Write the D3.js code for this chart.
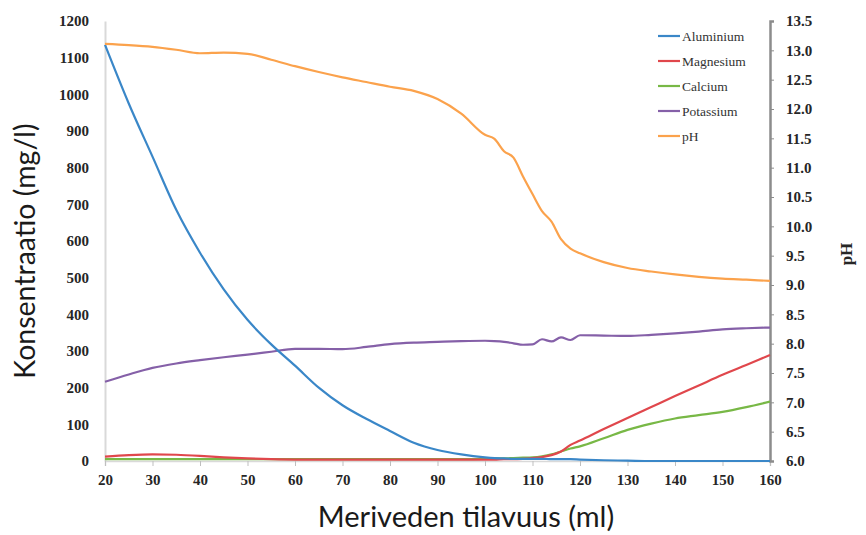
<!DOCTYPE html>
<html>
<head>
<meta charset="utf-8">
<script src="https://cdn.jsdelivr.net/npm/d3@7"></script>
<style>
  html, body { margin: 0; padding: 0; background: #fff; }
  svg { display: block; }
</style>
</head>
<body>
<svg id="chart" width="866" height="535"></svg>
<script>
// Seawater volume added (ml)
const volume = [20, 25, 30, 35, 40, 45, 50, 55, 60, 65, 70, 75, 80, 85, 90, 95, 100,
  102, 104, 106, 108, 110, 112, 114, 116, 118, 120, 125, 130, 135, 140, 145, 150, 155, 160];

// Concentrations (mg/l)
const aluminium = [1135, 975, 830, 685, 568, 468, 385, 318, 260, 200, 152, 115, 82, 50, 30, 18, 10,
  8, 7, 6, 6, 6, 6, 5, 5, 5, 4, 2, 1, 0, 0, 0, 0, 0, 0];
const magnesium = [12, 16, 18, 17, 14, 10, 7, 5, 4, 4, 4, 4, 4, 4, 4, 4, 4,
  4, 5, 5, 6, 8, 11, 16, 26, 44, 56, 87, 117, 147, 177, 206, 235, 262, 289];
const calcium = [5, 5, 5, 5, 5, 5, 5, 5, 5, 5, 5, 5, 5, 5, 5, 5, 6,
  7, 7, 8, 9, 10, 13, 18, 26, 34, 40, 62, 85, 102, 116, 125, 134, 147, 162];
const potassium = [216, 236, 254, 266, 275, 283, 290, 298, 306, 306, 305, 311, 319, 323, 325, 327, 328,
  327, 325, 321, 317, 318, 332, 326, 337, 330, 343, 342, 341, 344, 348, 353, 359, 362, 364];

// pH (right axis)
const ph = [13.11, 13.09, 13.06, 13.01, 12.95, 12.96, 12.94, 12.84, 12.73, 12.63, 12.54, 12.46, 12.38, 12.31, 12.17, 11.92, 11.56,
  11.49, 11.28, 11.17, 10.85, 10.55, 10.26, 10.08, 9.78, 9.62, 9.54, 9.39, 9.29, 9.23, 9.18, 9.14, 9.11, 9.09, 9.07];

const xTicks = [20, 30, 40, 50, 60, 70, 80, 90, 100, 110, 120, 130, 140, 150, 160];
const leftTicks = [0, 100, 200, 300, 400, 500, 600, 700, 800, 900, 1000, 1100, 1200];
const rightTicks = [6.0, 6.5, 7.0, 7.5, 8.0, 8.5, 9.0, 9.5, 10.0, 10.5, 11.0, 11.5, 12.0, 12.5, 13.0, 13.5];

const seriesNames = ["Aluminium", "Magnesium", "Calcium", "Potassium", "pH"];
const seriesColors = ["#3a87c8", "#e0474c", "#78b846", "#8560a8", "#fba24c"];

const svg = d3.select("#chart");
const m = { left: 105, right: 770, top: 21, bottom: 461 };

const x = d3.scaleLinear().domain([20, 160]).range([m.left, m.right]);
const yL = d3.scaleLinear().domain([0, 1200]).range([m.bottom, m.top]);
const yR = d3.scaleLinear().domain([6, 13.5]).range([m.bottom, m.top]);

const tickFont = "'Liberation Serif', 'Times New Roman', serif";

// Left axis
const gL = svg.append("g").attr("transform", `translate(${m.left},0)`)
  .call(d3.axisLeft(yL).tickValues(leftTicks).tickSize(0).tickPadding(16).tickFormat(d3.format("d")));
gL.select(".domain").attr("stroke", "#d9d9d9").attr("stroke-width", 2);

// Bottom axis
const gB = svg.append("g").attr("transform", `translate(0,${m.bottom})`)
  .call(d3.axisBottom(x).tickValues(xTicks).tickSizeOuter(0).tickSize(5).tickPadding(8).tickFormat(d3.format("d")));
gB.select(".domain").attr("stroke", "#d9d9d9").attr("stroke-width", 1.5);
gB.selectAll(".tick line").attr("stroke", "#bfbfbf");

// Right axis
const gR = svg.append("g").attr("transform", `translate(${m.right},0)`)
  .call(d3.axisRight(yR).tickValues(rightTicks).tickSizeOuter(0).tickSize(4).tickPadding(12).tickFormat(d3.format(".1f")));
gR.select(".domain").attr("stroke", "#8c8c8c").attr("stroke-width", 2.5);
gR.selectAll(".tick line").attr("stroke", "#8c8c8c");

svg.selectAll(".tick text")
  .attr("font-family", tickFont)
  .attr("font-weight", "bold")
  .attr("font-size", 15)
  .attr("fill", "#262626");

// Series lines
const concLine = d3.line().x((d, i) => x(volume[i])).y(d => yL(d)).curve(d3.curveMonotoneX);
const phLine = d3.line().x((d, i) => x(volume[i])).y(d => yR(d)).curve(d3.curveMonotoneX);

const concSeries = [aluminium, magnesium, calcium, potassium];
const order = [3, 2, 1, 0];
order.forEach(k => {
  svg.append("path").datum(concSeries[k])
    .attr("d", concLine)
    .attr("fill", "none")
    .attr("stroke", seriesColors[k])
    .attr("stroke-width", 2.2)
    .attr("stroke-linejoin", "round");
});
svg.append("path").datum(ph)
  .attr("d", phLine)
  .attr("fill", "none")
  .attr("stroke", seriesColors[4])
  .attr("stroke-width", 2.2)
  .attr("stroke-linejoin", "round");

// Legend
const legend = svg.append("g").attr("transform", "translate(658,36)");
seriesNames.forEach((name, i) => {
  const g = legend.append("g").attr("transform", `translate(0,${i * 25})`);
  g.append("line").attr("x1", 0).attr("x2", 22).attr("y1", 0).attr("y2", 0)
    .attr("stroke", seriesColors[i]).attr("stroke-width", 2.2);
  g.append("text").attr("x", 24).attr("y", 4.5)
    .attr("font-family", tickFont).attr("font-size", 13.5).attr("fill", "#333")
    .text(name);
});

// Axis titles
const titleFont = "Lato, 'Open Sans', sans-serif";
svg.append("text")
  .attr("transform", `translate(35,251) rotate(-90)`)
  .attr("text-anchor", "middle")
  .attr("font-family", titleFont).attr("font-size", 28.5).attr("fill", "#1a1a1a")
  .text("Konsentraatio (mg/l)");
svg.append("text")
  .attr("x", 466).attr("y", 527)
  .attr("text-anchor", "middle")
  .attr("font-family", titleFont).attr("font-size", 29).attr("fill", "#1a1a1a")
  .text("Meriveden tilavuus (ml)");
svg.append("text")
  .attr("transform", `translate(852,254) rotate(-90)`)
  .attr("text-anchor", "middle")
  .attr("font-family", tickFont).attr("font-weight", "bold").attr("font-size", 17).attr("fill", "#262626")
  .text("pH");
</script>
</body>
</html>
